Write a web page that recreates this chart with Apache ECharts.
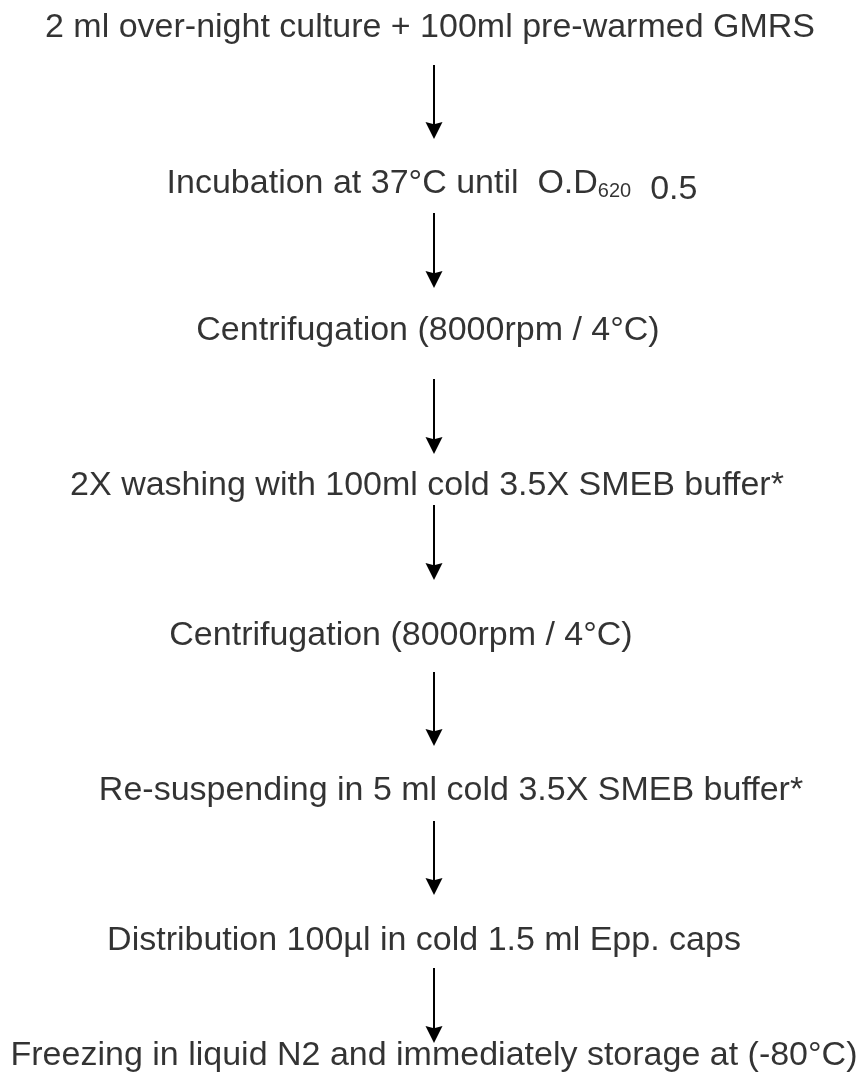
<!DOCTYPE html>
<html>
<head>
<meta charset="utf-8">
<title>Protocol flow</title>
<script src="https://cdn.jsdelivr.net/npm/echarts@6/dist/echarts.min.js"></script>
<style>html,body{margin:0;background:#fff;}</style>
</head>
<body>
<div id="main" style="width:858px;height:1075px"></div>
<script>
// protocol steps, top to bottom
var steps = [
	'2 ml over-night culture + 100ml pre-warmed GMRS',
	'{a|Incubation at 37°C until  O.D}{s|620}{b|  0.5}',
	'Centrifugation (8000rpm / 4°C)',
	'2X washing with 100ml cold 3.5X SMEB buffer*',
	'Centrifugation (8000rpm / 4°C)',
	'Re-suspending in 5 ml cold 3.5X SMEB buffer*',
	'Distribution 100µl in cold 1.5 ml Epp. caps',
	'Freezing in liquid N2 and immediately storage at (-80°C)'
];
// where each step label sits (page units)
var stepX = [430, 432, 428, 427, 401, 451, 424, 434];
var stepY = [28, 184, 331, 486, 636, 791, 941, 1056];
// arrows between steps
var arrowX = [434, 434, 434, 434, 434, 434, 434];
var arrowFrom = [65, 213, 379, 505, 672, 821, 968];
var arrowTo = [139, 288, 454, 580, 746, 895, 1043];

var headLen = 17;
var font = '"Liberation Sans", Arial, sans-serif';

var myChart = echarts.init(document.getElementById('main'));

var arrowData = arrowX.map(function (x, i) {
	// symbol is centred on the end point, pull back so the tip lands on arrowTo
	return { coords: [[x, arrowFrom[i]], [x, arrowTo[i] - headLen / 2]] };
});

option = {
	backgroundColor: '#fff',
	animation: false,
	grid: { left: 0, right: 0, top: 0, bottom: 0 },
	xAxis: { type: 'value', min: 0, max: 858, show: false },
	yAxis: { type: 'value', min: 0, max: 1075, inverse: true, show: false },
	series: [
		{
			type: 'lines',
			coordinateSystem: 'cartesian2d',
			data: arrowData,
			symbol: ['none', 'path://M5,0 L10,12 L5,10.5 L0,12 Z'],
			symbolSize: [15, headLen],
			lineStyle: { color: '#000', width: 2, opacity: 1 },
			itemStyle: { color: '#000' }
		},
		{
			type: 'scatter',
			data: stepX.map(function (x, i) { return [x, stepY[i]]; }),
			symbolSize: 1,
			itemStyle: { color: 'transparent' },
			label: {
				show: true,
				position: 'inside',
				align: 'center',
				verticalAlign: 'middle',
				color: '#000',
				textBorderWidth: 0,
				fontFamily: font,
				fontSize: 34,
				formatter: function (p) { return steps[p.dataIndex]; },
				rich: {
					a: { fontSize: 34, fontFamily: font, color: '#000' },
					s: { fontSize: 20, fontFamily: font, color: '#000', padding: [14, 0, 0, 0] },
					b: { fontSize: 34, fontFamily: font, color: '#000', padding: [12, 0, 0, 0] }
				}
			}
		}
	]
};
myChart.setOption(option);
</script>
</body>
</html>
